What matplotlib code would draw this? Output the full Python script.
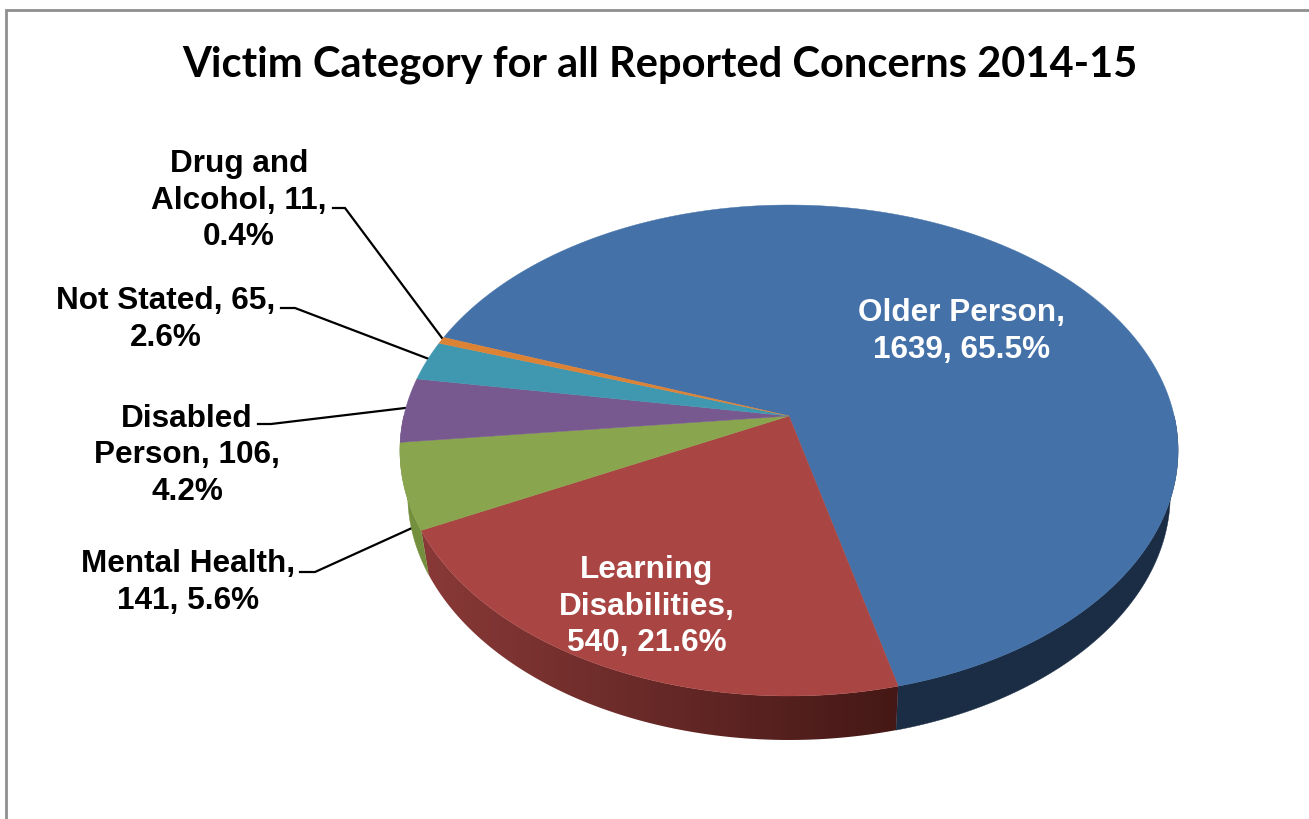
import numpy as np
import matplotlib
matplotlib.use("Agg")
import matplotlib.pyplot as plt
from matplotlib.colors import LinearSegmentedColormap
from matplotlib.patches import Polygon

title = "Victim Category for all Reported Concerns 2014-15"
categories = ["Older Person", "Learning Disabilities", "Mental Health",
              "Disabled Person", "Not Stated", "Drug and Alcohol"]
counts = [1639, 540, 141, 106, 65, 11]
top_colors = ["#4472a8", "#a94542", "#89a54e", "#77598f", "#3f98b0", "#dc8235"]
side_colors = ["#1b2d45", "#8a3a38", "#74903f", "#77598f", "#3f98b0", "#dc8235"]
red_side_dark = "#441816"

label_lines = ["Older Person,\n1639, 65.5%", "Learning\nDisabilities,\n540, 21.6%",
               "Mental Health,\n141, 5.6%", "Disabled\nPerson, 106,\n4.2%",
               "Not Stated, 65,\n2.6%", "Drug and\nAlcohol, 11,\n0.4%"]
label_x = [962, 647, 188, 187, 166, 239]
label_y = [329, 604, 580, 453, 317, 198]
label_color = ["white", "white", "black", "black", "black", "black"]
leaders = [None, None,
           [(300, 572), (315, 572), (412, 528)],
           [(258, 424), (271, 424), (405, 408)],
           [(281, 308), (295, 308), (429, 359)],
           [(333, 208), (345, 208), (442, 338)]]

# perspective of the pie, everything in pixels of the picture
cx, apex_y = 789, 416
tilt = 0.1405
y_scale = -182.2
radius = 385.2
depth = 44
bottom_shrink = 0.98
start_angle = 160


def project(angle, r=1.0):
    a = np.radians(angle)
    x, y = r * np.cos(a), r * np.sin(a)
    w = 1 + tilt * y
    return cx + radius * x / w, (apex_y + y_scale * y) / w


fig = plt.figure(figsize=(13.09, 8.19), dpi=100)
ax = fig.add_axes([0, 0, 1, 1])
ax.axis("off")

# grey frame, open on the right and the bottom
ax.plot([6.3, 6.3, 1309], [819, 10.3, 10.3], color="#8f8f8f", lw=2.0, solid_joinstyle="miter")

shares = np.array(counts) / sum(counts) * 360
ends = start_angle - np.cumsum(shares)
starts = ends + shares

# side wall first, only the front half of the rim, the top face covers the rest
for i in range(len(counts)):
    steps = np.linspace(starts[i], ends[i], 300)
    steps = steps[np.sin(np.radians(steps)) < 0]
    if len(steps) < 2:
        continue
    xs, ys = project(steps)
    low_x = cx + (xs - cx) * bottom_shrink
    low_y = ys + depth
    outline = np.c_[np.r_[xs, low_x[::-1]], np.r_[ys, low_y[::-1]]]
    if categories[i] == "Learning Disabilities":
        # red wall gets darker to the right
        fade = LinearSegmentedColormap.from_list("fade", [side_colors[i], red_side_dark])
        clip = Polygon(outline, closed=True, transform=ax.transData, fc="none", ec="none")
        ax.add_patch(clip)
        img = ax.imshow(np.linspace(0, 1, 256).reshape(1, -1), cmap=fade, aspect="auto",
                        extent=[415, 900, 800, 400], zorder=2)
        img.set_clip_path(clip)
    else:
        ax.fill(outline[:, 0], outline[:, 1], color=side_colors[i], lw=0.3, zorder=2)

# top face
for i in range(len(counts)):
    steps = np.linspace(starts[i], ends[i], 200)
    xs, ys = project(steps)
    ax.fill(np.r_[cx, xs], np.r_[apex_y, ys], color=top_colors[i], lw=0.3, zorder=3)

for pts in leaders:
    if pts:
        ax.plot(*zip(*pts), color="black", lw=1.6, zorder=1, solid_joinstyle="miter")

for i in range(len(counts)):
    ax.text(label_x[i], label_y[i] + 2.5, label_lines[i], color=label_color[i], ha="center",
            va="center", ma="center", fontsize=22.7, fontweight="bold",
            family="Liberation Sans", linespacing=1.28, zorder=5)

ax.text(660, 65, title, ha="center", va="center", fontsize=30, fontweight="bold",
        family="Lato", color="black", zorder=5)

ax.set_xlim(0, 1309)
ax.set_ylim(819, 0)

fig.savefig("out.png", dpi=100, facecolor="white")
